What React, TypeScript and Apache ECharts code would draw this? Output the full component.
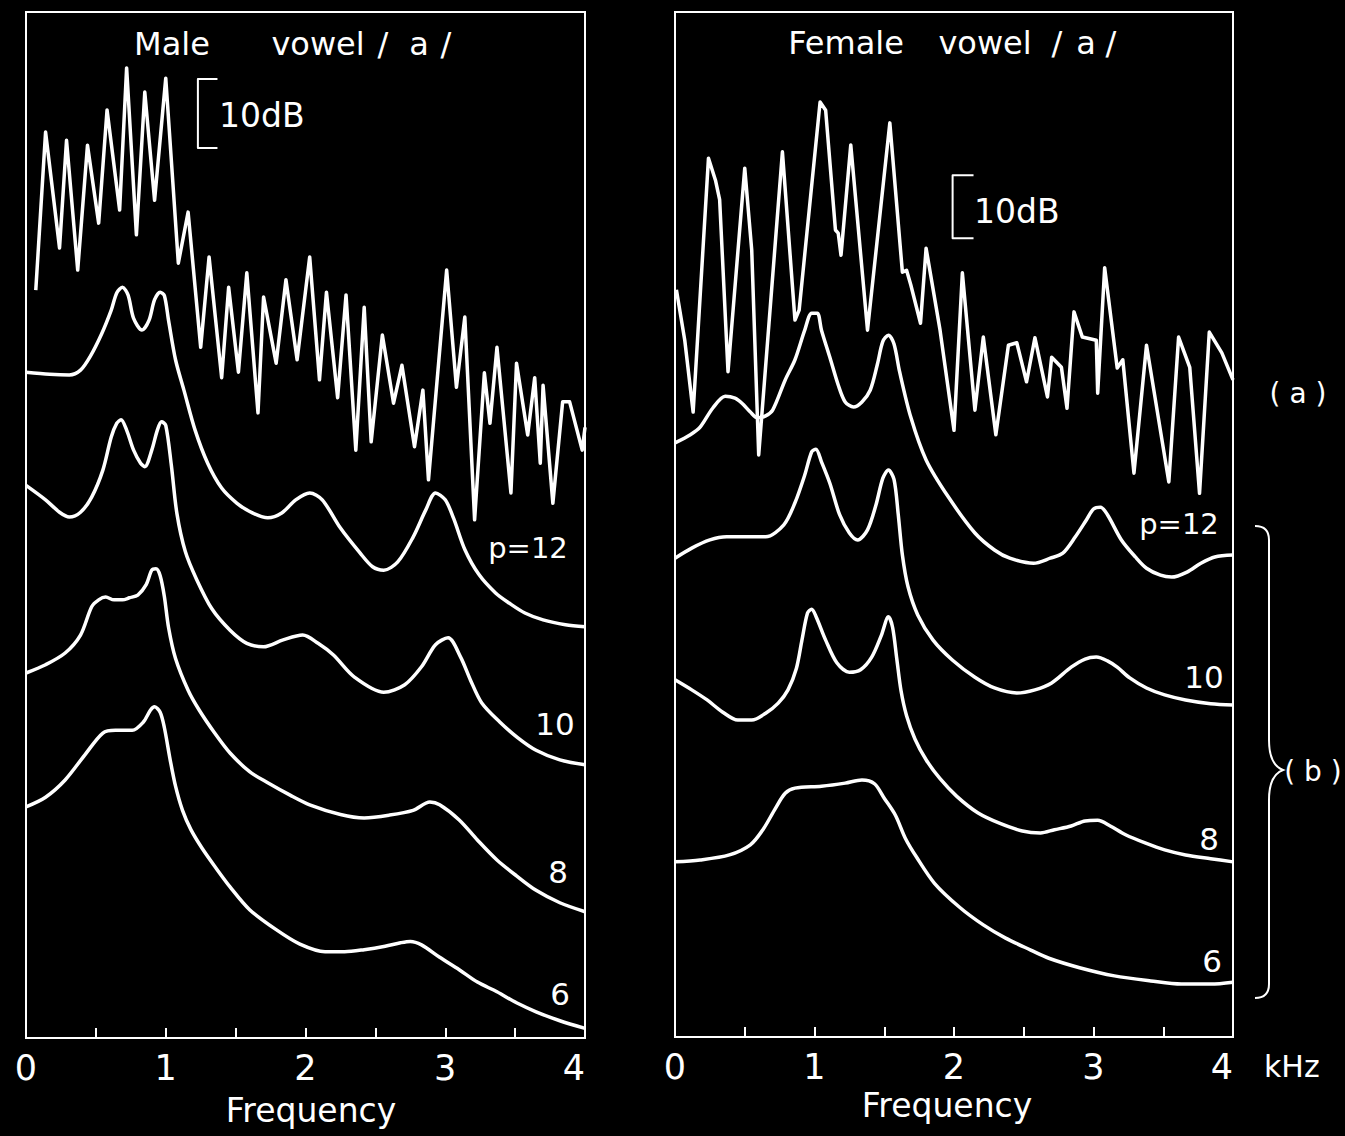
import React, { useEffect, useRef } from "react";
import * as echarts from "echarts";

// x: frequency (kHz), y: relative level (dB)
const freqTicks = [0, 1, 2, 3, 4];

const maleSpectrum: number[][] = [
  [0.07, 108.4], [0.14, 131.3], [0.24, 114.5], [0.29, 130.1], [0.37, 111.3], [0.44, 129.4], [0.52, 118.1],
  [0.58, 134.5], [0.67, 120.0], [0.72, 140.6], [0.79, 116.4], [0.85, 137.1], [0.92, 121.4], [1.0, 139.1],
  [1.09, 112.3], [1.16, 119.7], [1.25, 100.1], [1.31, 113.2], [1.4, 95.7], [1.45, 108.8], [1.52, 96.5],
  [1.58, 110.9], [1.66, 90.6], [1.7, 107.4], [1.79, 97.8], [1.86, 109.9], [1.94, 98.3], [2.03, 113.2],
  [2.1, 95.4], [2.15, 108.1], [2.23, 92.8], [2.29, 107.7], [2.36, 85.2], [2.42, 105.9], [2.47, 86.4],
  [2.55, 101.9], [2.63, 92.0], [2.69, 97.5], [2.78, 85.7], [2.84, 93.9], [2.88, 80.9], [3.01, 111.3],
  [3.08, 94.3], [3.14, 104.5], [3.21, 75.1], [3.28, 96.4], [3.32, 89.1], [3.37, 100.1], [3.47, 79.0],
  [3.51, 97.8], [3.59, 87.4], [3.64, 95.7], [3.68, 83.3], [3.7, 94.6], [3.77, 77.5], [3.84, 92.2],
  [3.89, 92.2], [3.98, 85.2], [4.0, 88.5],
];

const maleP12: number[][] = [
  [0, 96.5], [0.17, 96.2], [0.31, 96.1], [0.39, 96.8], [0.46, 98.8], [0.54, 102.0], [0.61, 105.5],
  [0.65, 108.0], [0.69, 108.8], [0.73, 107.7], [0.77, 104.3], [0.83, 102.6], [0.88, 104.0], [0.92, 107.0],
  [0.96, 108.1], [0.99, 107.6], [1.02, 104.0], [1.07, 98.3], [1.13, 93.9], [1.21, 88.1], [1.3, 83.3],
  [1.4, 79.7], [1.51, 77.5], [1.62, 76.1], [1.73, 75.4], [1.83, 76.1], [1.93, 78.0], [2.03, 79.0],
  [2.12, 78.0], [2.25, 73.9], [2.39, 70.3], [2.48, 68.3], [2.56, 67.8], [2.66, 69.0], [2.77, 72.6],
  [2.86, 76.5], [2.93, 79.0], [3.0, 78.0], [3.06, 75.3], [3.14, 70.8], [3.24, 67.2], [3.36, 64.5],
  [3.46, 63.0], [3.57, 61.6], [3.7, 60.6], [3.86, 59.9], [4.0, 59.6],
];

const maleP10: number[][] = [
  [0, 80.1], [0.14, 78.0], [0.24, 76.2], [0.31, 75.5], [0.39, 76.2], [0.47, 78.4], [0.55, 82.3],
  [0.61, 87.1], [0.65, 89.1], [0.68, 89.6], [0.72, 88.1], [0.77, 85.2], [0.82, 83.3], [0.85, 82.8],
  [0.9, 85.2], [0.94, 88.1], [0.97, 89.3], [1.0, 88.8], [1.04, 83.0], [1.08, 76.0], [1.14, 70.5],
  [1.22, 66.5], [1.33, 62.2], [1.46, 59.1], [1.58, 57.2], [1.7, 56.7], [1.84, 57.7], [1.98, 58.4],
  [2.09, 57.2], [2.2, 55.5], [2.35, 52.3], [2.56, 50.1], [2.71, 51.2], [2.83, 53.8], [2.93, 57.0],
  [3.02, 58.0], [3.11, 55.2], [3.18, 51.9], [3.26, 48.6], [3.39, 45.8], [3.52, 43.5], [3.65, 41.7],
  [3.82, 40.3], [4.0, 39.6],
];

const maleP8: number[][] = [
  [0, 52.9], [0.14, 54.1], [0.28, 55.8], [0.39, 58.4], [0.47, 62.5], [0.52, 63.5], [0.57, 63.9],
  [0.63, 63.5], [0.69, 63.5], [0.74, 63.8], [0.8, 64.2], [0.86, 65.7], [0.9, 67.8], [0.93, 68.0],
  [0.96, 67.0], [0.99, 64.0], [1.02, 59.5], [1.07, 55.0], [1.16, 50.4], [1.24, 47.5], [1.35, 44.2],
  [1.46, 41.3], [1.6, 38.6], [1.73, 37.0], [1.89, 35.2], [2.03, 33.8], [2.25, 32.4], [2.42, 31.9],
  [2.6, 32.3], [2.77, 33.0], [2.89, 34.2], [2.96, 33.8], [3.1, 31.6], [3.23, 28.7], [3.37, 25.8],
  [3.51, 23.5], [3.65, 21.4], [3.82, 19.6], [4.0, 18.3],
];

const maleP6: number[][] = [
  [0, 33.5], [0.14, 34.9], [0.28, 37.4], [0.42, 41.0], [0.55, 44.2], [0.64, 44.6], [0.76, 44.6],
  [0.84, 45.8], [0.89, 47.5], [0.92, 48.0], [0.96, 47.2], [0.99, 45.0], [1.03, 40.5], [1.07, 36.5],
  [1.12, 33.0], [1.18, 30.2], [1.26, 27.5], [1.35, 24.9], [1.46, 21.9], [1.6, 18.6], [1.79, 15.7],
  [1.96, 13.6], [2.14, 12.5], [2.28, 12.5], [2.42, 12.8], [2.57, 13.3], [2.68, 13.8], [2.75, 14.0],
  [2.83, 13.5], [2.96, 11.7], [3.1, 9.9], [3.23, 8.1], [3.37, 6.7], [3.51, 5.1], [3.65, 3.8],
  [3.82, 2.5], [4.0, 1.4],
];

const femaleSpectrum: number[][] = [
  [0.01, 118.6], [0.07, 110.6], [0.13, 99.2], [0.24, 139.5], [0.29, 136.0], [0.32, 132.9], [0.38, 105.6],
  [0.5, 137.9], [0.55, 124.9], [0.6, 92.4], [0.77, 140.5], [0.86, 113.8], [0.89, 115.4], [1.04, 148.4],
  [1.08, 147.1], [1.15, 128.1], [1.17, 127.6], [1.19, 124.1], [1.26, 141.6], [1.38, 112.2], [1.54, 145.1],
  [1.63, 121.4], [1.66, 121.7], [1.69, 119.4], [1.76, 113.3], [1.8, 125.2], [1.9, 112.2], [2.0, 96.3],
  [2.06, 121.3], [2.15, 99.5], [2.21, 111.1], [2.3, 95.6], [2.39, 109.8], [2.45, 110.2], [2.52, 104.0],
  [2.58, 111.0], [2.67, 101.6], [2.7, 107.9], [2.77, 106.3], [2.81, 99.8], [2.86, 115.1], [2.92, 111.1],
  [3.02, 110.6], [3.03, 102.2], [3.08, 122.1], [3.17, 106.2], [3.21, 107.5], [3.29, 89.5], [3.38, 109.8],
  [3.54, 88.1], [3.61, 111.1], [3.69, 106.3], [3.76, 86.3], [3.83, 111.9], [3.92, 108.6], [4.0, 104.3],
];

const femaleP12: number[][] = [
  [0, 94.3], [0.11, 95.6], [0.18, 96.8], [0.27, 99.8], [0.36, 101.7], [0.43, 101.4], [0.48, 100.6],
  [0.54, 99.2], [0.59, 98.3], [0.65, 98.6], [0.7, 99.5], [0.79, 104.3], [0.86, 107.5], [0.93, 112.2],
  [0.98, 114.9], [1.02, 114.9], [1.05, 112.2], [1.11, 107.9], [1.17, 103.5], [1.22, 100.8], [1.28, 100.0],
  [1.34, 100.8], [1.4, 102.7], [1.45, 106.7], [1.49, 110.4], [1.53, 111.4], [1.57, 110.0], [1.61, 105.6],
  [1.69, 98.4], [1.8, 91.6], [1.96, 85.7], [2.15, 80.0], [2.29, 77.3], [2.4, 76.0], [2.57, 75.2],
  [2.69, 76.0], [2.78, 76.8], [2.87, 79.4], [2.95, 82.1], [3.0, 83.8], [3.05, 84.1], [3.1, 82.9],
  [3.2, 78.9], [3.3, 76.2], [3.38, 74.4], [3.48, 73.3], [3.56, 73.0], [3.67, 73.8], [3.77, 75.2],
  [3.87, 76.2], [4.0, 76.5],
];

const femaleP10: number[][] = [
  [0, 76.0], [0.12, 77.6], [0.25, 78.9], [0.37, 79.4], [0.5, 79.4], [0.65, 79.4], [0.78, 81.3],
  [0.86, 84.8], [0.93, 89.2], [0.98, 92.9], [1.01, 93.3], [1.05, 91.3], [1.11, 87.9], [1.18, 82.9],
  [1.25, 80.0], [1.31, 78.9], [1.38, 80.5], [1.44, 84.4], [1.49, 88.7], [1.53, 90.0], [1.57, 88.5],
  [1.6, 83.0], [1.63, 76.5], [1.67, 71.5], [1.74, 67.0], [1.85, 63.0], [1.99, 59.8], [2.15, 57.1],
  [2.29, 55.4], [2.45, 54.6], [2.58, 55.1], [2.7, 56.2], [2.84, 58.7], [2.94, 60.0], [3.02, 60.3],
  [3.1, 59.7], [3.17, 58.7], [3.26, 57.0], [3.38, 55.4], [3.51, 54.3], [3.66, 53.5], [3.84, 52.9],
  [4.0, 52.7],
];

const femaleP8: number[][] = [
  [0, 56.7], [0.12, 55.1], [0.23, 53.5], [0.34, 51.6], [0.45, 50.3], [0.55, 50.3], [0.65, 51.4],
  [0.74, 53.0], [0.81, 55.1], [0.87, 58.5], [0.91, 63.0], [0.95, 67.3], [0.98, 67.9], [1.01, 66.8],
  [1.08, 63.0], [1.16, 59.4], [1.25, 57.9], [1.33, 58.3], [1.41, 60.3], [1.48, 63.8], [1.53, 66.7],
  [1.56, 65.0], [1.59, 60.0], [1.62, 55.0], [1.66, 51.0], [1.72, 47.3], [1.8, 44.0], [1.9, 41.0],
  [2.02, 38.2], [2.17, 35.6], [2.33, 33.9], [2.49, 32.7], [2.62, 32.4], [2.72, 32.9], [2.84, 33.5],
  [2.94, 34.3], [3.03, 34.4], [3.12, 33.5], [3.23, 32.1], [3.37, 30.8], [3.51, 29.7], [3.66, 28.9],
  [3.84, 28.3], [4.0, 27.8],
];

const femaleP6: number[][] = [
  [0, 27.8], [0.18, 28.1], [0.39, 28.9], [0.54, 30.5], [0.63, 32.9], [0.72, 36.3], [0.79, 38.7],
  [0.86, 39.5], [1.05, 39.8], [1.22, 40.3], [1.34, 40.8], [1.43, 40.2], [1.5, 37.9], [1.58, 35.2],
  [1.65, 31.6], [1.73, 28.6], [1.86, 24.4], [2.04, 20.6], [2.21, 17.8], [2.37, 15.7], [2.55, 13.8],
  [2.68, 12.5], [2.9, 11.0], [3.15, 9.7], [3.41, 8.9], [3.63, 8.4], [3.84, 8.4], [4.0, 8.7],
];

// 10 dB scale bars (kHz, dB)
const maleScaleBar: number[][] = [[1.37, 139], [1.23, 139], [1.23, 129], [1.37, 129]];
const femaleScaleBar: number[][] = [[2.14, 136.8], [1.99, 136.8], [1.99, 126.8], [2.14, 126.8]];

const maleLevelMax = 148.7;
const femaleLevelMax = 162.7;

const FONT = '"DejaVu Sans"';

export default function App() {
  const ref = useRef<HTMLDivElement>(null);

  useEffect(() => {
    document.body.style.margin = "0";
    document.body.style.background = "#000";
    const braceD =
      "M 0 0 C 8 0 14 4 14 14 L 14 214 C 14 232 20 241 28 244 C 20 247 14 256 14 274 L 14 458 C 14 468 8 472 0 472";
    try {
      echarts.graphic.registerShape("brace", echarts.graphic.extendPath(braceD, {}) as any);
    } catch (e) {
      /* ignore */
    }
    const chart = echarts.init(ref.current as HTMLDivElement, null, { renderer: "svg" });

    const txt = (text: string, x: number, y: number, size: number, align = "center") => ({
      type: "text",
      x,
      y,
      silent: true,
      style: {
        text,
        fill: "#fff",
        font: `${size}px ${FONT}`,
        textAlign: align,
        textVerticalAlign: "middle",
      },
    });

    const xAxisBase = (gridIndex: number) => ({
      type: "value",
      gridIndex,
      min: 0,
      max: 4,
      interval: 0.5,
      axisLine: { show: false },
      splitLine: { show: false },
      axisTick: { show: true, inside: true, length: 10, lineStyle: { color: "#fff", width: 2 } },
      axisLabel: {
        color: "#fff",
        fontSize: 35,
        fontFamily: FONT,
        margin: 12,
        alignMaxLabel: "right",
        formatter: (v: number) => (freqTicks.includes(v) ? String(v) : ""),
      },
    });

    const lineSeries = (data: number[][], idx: number, smooth: number | boolean, width = 3.5) => ({
      type: "line",
      xAxisIndex: idx,
      yAxisIndex: idx,
      data,
      smooth,
      symbol: "none",
      showSymbol: false,
      silent: true,
      clip: false,
      lineStyle: { color: "#fff", width, join: "round" },
    });

    const option: any = {
      animation: false,
      backgroundColor: "#000",
      grid: [
        { left: 26, top: 12, width: 559, height: 1026, show: true, borderColor: "#fff", borderWidth: 2, backgroundColor: "transparent" },
        { left: 675, top: 12, width: 558, height: 1025, show: true, borderColor: "#fff", borderWidth: 2, backgroundColor: "transparent" },
      ],
      xAxis: [xAxisBase(0), xAxisBase(1)],
      yAxis: [
        { type: "value", gridIndex: 0, min: 0, max: maleLevelMax, show: false },
        { type: "value", gridIndex: 1, min: 0, max: femaleLevelMax, show: false },
      ],
      series: [
        lineSeries(maleSpectrum, 0, false),
        lineSeries(maleP12, 0, 0.3),
        lineSeries(maleP10, 0, 0.3),
        lineSeries(maleP8, 0, 0.3),
        lineSeries(maleP6, 0, 0.3),
        lineSeries(maleScaleBar, 0, false, 2),
        lineSeries(femaleSpectrum, 1, false),
        lineSeries(femaleP12, 1, 0.3),
        lineSeries(femaleP10, 1, 0.3),
        lineSeries(femaleP8, 1, 0.3),
        lineSeries(femaleP6, 1, 0.3),
        lineSeries(femaleScaleBar, 1, false, 2),
      ],
      graphic: [
        txt("Male", 172, 44, 32),
        txt("vowel", 318, 44, 32),
        txt("/", 383, 44, 32),
        txt("a", 419, 44, 32),
        txt("/", 446, 44, 32),
        txt("Female", 846, 43, 32),
        txt("vowel", 985, 43, 32),
        txt("/", 1057, 43, 32),
        txt("a", 1086, 43, 32),
        txt("/", 1111, 43, 32),
        txt("10dB", 219, 115, 33, "left"),
        txt("10dB", 974, 211, 33, "left"),
        txt("p=12", 528, 548, 29),
        txt("10", 555, 724, 31),
        txt("8", 558, 872, 31),
        txt("6", 560, 994, 31),
        txt("p=12", 1179, 524, 29),
        txt("10", 1204, 677, 31),
        txt("8", 1209, 839, 31),
        txt("6", 1212, 961, 31),
        txt("Frequency", 311, 1110, 33),
        txt("Frequency", 947, 1105, 33),
        txt("kHz", 1264, 1066, 30, "left"),
        txt("( a )", 1298, 393, 28),
        txt("( b )", 1313, 771, 28),
        {
          type: "brace",
          x: 1255,
          y: 526,
          silent: true,
          style: { stroke: "#fff", lineWidth: 2, fill: "none" },
        },
      ],
    };

    chart.setOption(option);
    return () => chart.dispose();
  }, []);

  return (
    <div
      ref={ref}
      style={{ position: "absolute", left: 0, top: 0, width: 1345, height: 1136, background: "#000" }}
    />
  );
}
